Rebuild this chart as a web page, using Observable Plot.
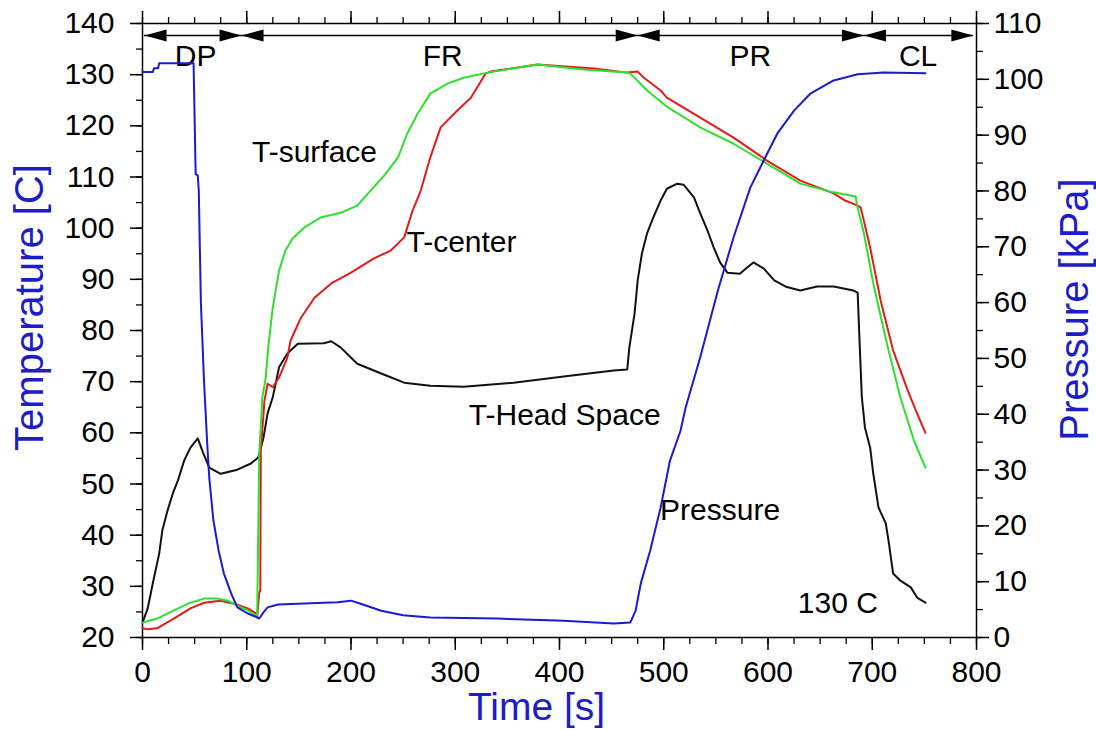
<!DOCTYPE html>
<html><head><meta charset="utf-8">
<script src="https://cdn.jsdelivr.net/npm/d3@7"></script>
<script src="https://cdn.jsdelivr.net/npm/@observablehq/plot@0.6"></script>
<style>
html,body{margin:0;padding:0;background:#fff;}
#chart{position:absolute;left:0;top:0;}
</style></head><body><div id="chart"></div>
<script>
// ---- data (time in s) ----
const pressureTime = [0,10,11,15,16,49,51,53,54,56,59,62,64,68,73,78,85,91,101,110,112,116,120,130,187,200,210,229,250,276,340,404,452,468,473,478,487,497,506,516,521,535,552,567,583,596,609,625,641,663,686,711,751];
const pressureKPa  = [101.3,101.3,102,102,102.9,102.9,83,82.8,80,60,46,35,28.7,21,15.6,11.5,7.9,5.4,4.3,3.6,3.4,4.5,5.4,5.9,6.3,6.6,6.0,4.8,4.0,3.6,3.4,3.0,2.5,2.7,4.8,9.7,15.6,23.3,31.7,37,41.2,50.2,62.2,71.7,80.6,85.5,90.3,94.4,97.5,99.8,100.9,101.2,101.1];

const headTime = [0,5,10,16,19,24,29,34,40,46,53,58,64,75,91,104,111,116,120,125,131,139,149,174,181,190,206,229,251,276,308,356,404,452,465,467,472,475,479,484,490,497,503,513,519,529,535,542,548,554,561,573,580,586,596,606,618,631,647,663,682,686,688,690,693,698,701,706,713,716,720,727,737,743,751];
const headTemp = [22.9,25.7,30.7,36.4,40.9,44.8,48.1,50.7,54.6,57.1,58.9,56.2,53.2,52,52.8,54,55.2,59,63.8,67,72.8,75.5,77.4,77.5,77.9,76.7,73.5,71.6,69.8,69.2,69,69.8,71,72.2,72.4,76.7,83.3,89.8,95,99,102.1,105.4,107.7,108.7,108.5,106,102.9,99.5,96.2,93.3,91.3,91.1,92.3,93.3,92.1,89.8,88.5,87.8,88.6,88.6,87.8,87.4,77,67,61,57.1,52,45.4,42.3,38.4,32.5,31.1,29.8,27.8,26.8];

const surfaceTime = [0,14,30,46,59,72,82,91,101,109,110,112,115,118,121,125,131,137,144,155,171,190,206,219,232,245,254,264,276,293,308,331,379,423,465,468,484,504,535,567,599,631,663,684,686,692,701,714,727,740,751];
const surfaceTemp = [22.9,23.7,25.3,26.8,27.6,27.6,27.2,26.2,25.3,24.3,24.3,56,67,70.5,77.5,84.5,91.7,95.6,98,100.1,102.1,103,104.4,107.4,110.3,113.8,118.5,122.4,126.3,128.3,129.4,130.4,132,131,130.4,130.2,126.9,123.6,119.7,116.5,112.6,108.7,107,106.2,104,99,89.2,77.5,66.9,58.5,53.2];

const centerTime = [0,5,14,30,46,59,75,88,101,109,110,112,113,113.5,117,120,125,131,139,142,152,165,181,200,222,238,251,259,267,276,286,302,315,321,329,334,379,433,465,475,481,497,503,535,567,599,631,663,674,686,689,698,708,720,734,743,751];
const centerTemp = [21.8,21.6,21.8,23.7,25.7,26.8,27.2,26.6,25.7,24.7,23.9,28.8,29.2,56.5,66.3,69.6,68.9,70.8,74.7,78,82.5,86.4,89.2,91.3,94.1,95.6,98.2,103.4,107.4,113.8,119.7,123,125.5,127.5,130.2,130.6,132,131.2,130.4,130.6,129.4,126.9,125.5,121.6,117.7,113.2,109.3,106.8,105.4,104.4,104,96.2,85.9,76.1,68.3,63.8,60];

// ---- axes / ticks ----
const xTicks = [0,100,200,300,400,500,600,700,800];
const tempTicks = [20,30,40,50,60,70,80,90,100,110,120,130,140];
const pressureTicks = [0,10,20,30,40,50,60,70,80,90,100,110];

// ---- phases ----
const phaseNames = ["DP","FR","PR","CL"];
const phaseStart = [2,95,475,692];
const phaseEnd   = [95,475,692,797];
const phaseLabelTime = [51,288,583,744];

// ---- annotations ----
const noteText = ["T-surface","T-center","T-Head Space","Pressure","130 C"];
const noteTime = [165,306,405,554,667];
const noteTemp = [114.8,97.2,63.4,44.8,26.6];

// ---- build ----
const T0 = 20, T1 = 140, P1 = 110;
const toTemp = p => T0 + p * (T1 - T0) / P1;
const zip = (xs, ys) => xs.map((t, i) => ({t, v: ys[i]}));
const pressureRows = pressureTime.map((t, i) => ({t, v: toTemp(pressureKPa[i])}));
const headRows = zip(headTime, headTemp);
const surfaceRows = zip(surfaceTime, surfaceTemp);
const centerRows = zip(centerTime, centerTemp);
const phases = phaseNames.map((n, i) => ({n, s: phaseStart[i], e: phaseEnd[i], l: phaseLabelTime[i]}));
const notes = noteText.map((n, i) => ({n, t: noteTime[i], v: noteTemp[i]}));

const BLUE = "#1c1cc8";
const FONT = "'Liberation Sans', Arial, Helvetica, sans-serif";
const headRight = {draw(ctx) { ctx.moveTo(0, 0); ctx.lineTo(-22, -6); ctx.lineTo(-22, 6); ctx.closePath(); }};
const headLeft  = {draw(ctx) { ctx.moveTo(0, 0); ctx.lineTo(22, -6); ctx.lineTo(22, 6); ctx.closePath(); }};
const blank = () => "";

const chart = Plot.plot({
  width: 1096, height: 730,
  marginLeft: 142, marginRight: 120, marginTop: 23, marginBottom: 93,
  style: {fontFamily: FONT, fontSize: "30px", background: "white", color: "black", overflow: "visible"},
  x: {domain: [0, 800]},
  y: {domain: [T0, T1]},
  marks: [
    Plot.frame({stroke: "black", strokeWidth: 1.5}),
    Plot.axisX(d3.range(0, 801, 25), {anchor: "bottom", tickSize: 7, tickFormat: blank, label: null, strokeWidth: 1.3}),
    Plot.axisX(xTicks, {anchor: "bottom", tickSize: 13, tickPadding: 10, label: null, fontSize: 30, strokeWidth: 1.5}),
    Plot.axisX(d3.range(0, 801, 25), {anchor: "top", tickSize: 7, tickFormat: blank, label: null, strokeWidth: 1.3}),
    Plot.axisX(xTicks, {anchor: "top", tickSize: 13, tickFormat: blank, label: null, strokeWidth: 1.5}),
    Plot.axisY(d3.range(20, 141, 5), {anchor: "left", tickSize: 6, tickFormat: blank, label: null, strokeWidth: 1.3}),
    Plot.axisY(tempTicks, {anchor: "left", tickSize: 12, tickPadding: 16, label: null, fontSize: 30, strokeWidth: 1.5}),
    Plot.axisY(d3.range(0, 111, 5).map(toTemp), {anchor: "right", tickSize: 6, tickFormat: blank, label: null, strokeWidth: 1.3}),
    Plot.axisY(pressureTicks.map(toTemp), {anchor: "right", tickSize: 12, tickPadding: 5, label: null, fontSize: 30, strokeWidth: 1.5,
      tickFormat: d => String(Math.round((d - T0) * P1 / (T1 - T0)))}),
    // phase arrows
    Plot.ruleY(phases, {x1: "s", x2: "e", y: () => T1, dy: 12, stroke: "black", strokeWidth: 1.5}),
    Plot.dot(phases, {x: "e", frameAnchor: "top", dy: 12, symbol: headRight, fill: "black", stroke: null}),
    Plot.dot(phases, {x: "s", frameAnchor: "top", dy: 12, symbol: headLeft, fill: "black", stroke: null}),
    Plot.text(phases, {x: "l", frameAnchor: "top", lineAnchor: "middle", dy: 33, text: "n", fontSize: 30, fill: "black"}),
    // series
    Plot.line(headRows, {x: "t", y: "v", stroke: "#111111", strokeWidth: 2}),
    Plot.line(centerRows, {x: "t", y: "v", stroke: "#e41a1a", strokeWidth: 2}),
    Plot.line(surfaceRows, {x: "t", y: "v", stroke: "#2ee02e", strokeWidth: 2}),
    Plot.line(pressureRows, {x: "t", y: "v", stroke: "#1a1ad2", strokeWidth: 2}),
    // annotations
    Plot.text(notes, {x: "t", y: "v", text: "n", fontSize: 30, fill: "black"}),
    // titles
    Plot.text(["Time [s]"], {frameAnchor: "bottom", textAnchor: "middle", lineAnchor: "middle", dx: -23, dy: 70, text: d => d, fill: BLUE, fontSize: 39}),
    Plot.text(["Temperature [C]"], {frameAnchor: "left", textAnchor: "middle", lineAnchor: "middle", dx: -112, dy: -23, rotate: -90, text: d => d, fill: BLUE, fontSize: 40}),
    Plot.text(["Pressure [kPa]"], {frameAnchor: "right", textAnchor: "middle", lineAnchor: "middle", dx: 99, dy: -21, rotate: -90, text: d => d, fill: BLUE, fontSize: 40})
  ]
});
document.getElementById("chart").appendChild(chart);
</script>
</body></html>
